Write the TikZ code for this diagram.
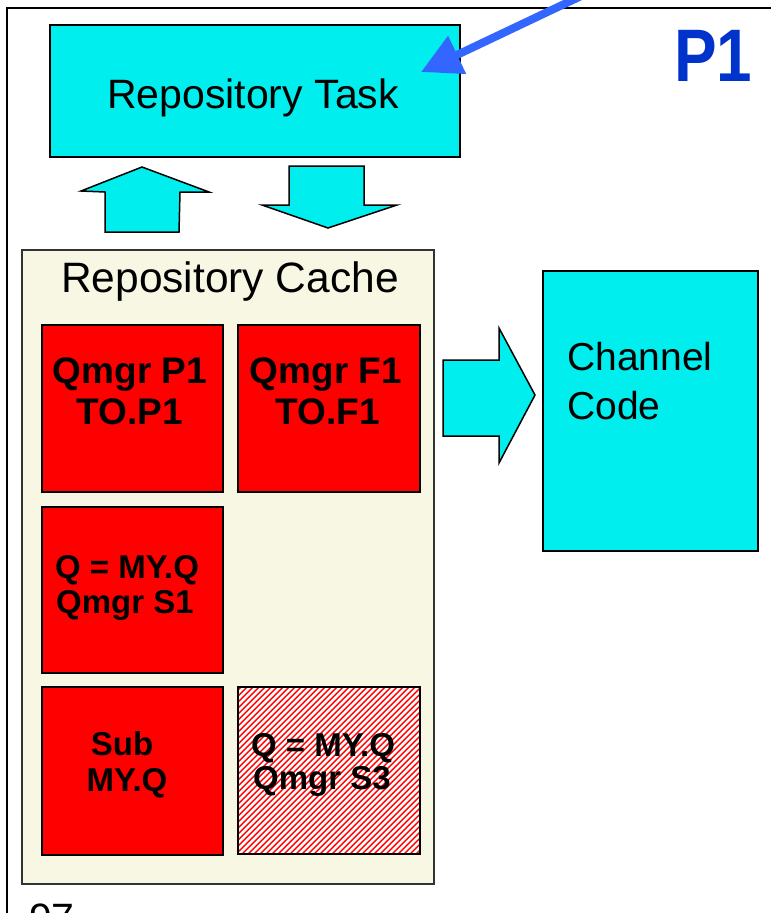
\documentclass[tikz,border=0pt]{standalone}
\usepackage{fontspec}
\setmainfont{Liberation Sans}
\usetikzlibrary{arrows.meta}
\definecolor{cyanfill}{RGB}{0,238,238}
\definecolor{cachefill}{RGB}{248,247,228}
\definecolor{redfill}{RGB}{255,0,0}
\definecolor{ponecol}{RGB}{0,51,204}
\definecolor{pointer}{RGB}{51,102,255}
\begin{document}
\begin{tikzpicture}[x=1pt,y=-1pt,
  boxbase/.style={rectangle, inner sep=0pt, outer sep=0pt},
  cyanbox/.style={boxbase, draw=black, line width=1.5pt, fill=cyanfill},
  cachebox/.style={boxbase, draw=black!80, line width=1.6pt, fill=cachefill},
  redbox/.style={boxbase, draw=black, line width=2pt, fill=redfill},
  hatchbox/.style={boxbase, draw=black, line width=2pt, fill=white},
  blockarrow/.style={draw=black, line width=1.5pt, fill=cyanfill, line join=miter},
  bigtxt/.style={inner sep=0pt, anchor=base, font=\fontsize{41}{49}\selectfont},
  redtxt/.style={inner sep=0pt, anchor=base, font=\fontsize{37}{44}\selectfont\bfseries},
  smalltxt/.style={inner sep=0pt, anchor=base, font=\fontsize{33}{39}\selectfont\bfseries},
  chantxt/.style={inner sep=0pt, anchor=base west, font=\fontsize{39}{47}\selectfont}
]
\useasboundingbox (0,0) rectangle (771,913);
\clip (0,0) rectangle (771,913);
\fill[white] (0,0) rectangle (771,913);

% outer frame
\draw[line width=2pt] (7,960) |- (820,8);

% P1
\node[inner sep=0pt, anchor=base west, text=ponecol] (pone) at (674,81)
  {\scalebox{1.03}[1.2]{\fontsize{62}{70}\selectfont\bfseries P1}};

% repository task
\node[cyanbox, minimum width=410, minimum height=132] (task) at (255,91) {};
\node[bigtxt] (tasktxt) at (253,108) {Repository Task};

% up / down block arrows
\draw[blockarrow] (105,232) -- (105,192) -- (81,191) -- (142,167) -- (209,192) -- (180,192) -- (179,232) -- cycle;
\draw[blockarrow] (289,166) -- (364,166) -- (364,205) -- (397,205) -- (328,228) -- (262,205) -- (289,205) -- cycle;

% repository cache
\node[cachebox, minimum width=412, minimum height=634] (cache) at (228,567) {};
\node[bigtxt, font=\fontsize{42.5}{50}\selectfont] (cachetxt) at (230,292) {Repository Cache};

\node[redbox, minimum width=181, minimum height=167] (qp) at (132.5,408.5) {};
\node[redtxt] (qpa) at (130,383) {Qmgr P1};
\node[redtxt] (qpb) at (130,424) {TO.P1};

\node[redbox, minimum width=182, minimum height=167] (qf) at (329,408.5) {};
\node[redtxt] (qfa) at (326,383) {Qmgr F1};
\node[redtxt] (qfb) at (328,424) {TO.F1};

\node[redbox, minimum width=181, minimum height=166] (qs) at (132.5,590) {};
\node[smalltxt] (qsa) at (127,578) {Q = MY.Q};
\node[smalltxt] (qsb) at (125,613) {Qmgr S1};

\node[redbox, minimum width=181, minimum height=168] (sub) at (132.5,771) {};
\node[smalltxt] (suba) at (122,755) {Sub};
\node[smalltxt] (subb) at (127,791) {MY.Q};

\node[hatchbox, minimum width=182, minimum height=167] (hs) at (329,770.5) {};
\begin{scope}
  \clip (hs.south west) rectangle (hs.north east);
  \foreach \i in {-180,-174,...,190}
    \draw[redfill, line width=1.4pt] (238+\i,858) -- ++(180,-180);
\end{scope}
\draw[black, line width=2pt] (hs.south west) rectangle (hs.north east);
\node[smalltxt] (hsa) at (323,756) {Q = MY.Q};
\node[smalltxt] (hsb) at (322,789) {Qmgr S3};

% right block arrow
\draw[blockarrow] (443,360) -- (499,360) -- (499,328) -- (535,395) -- (499,463) -- (499,436) -- (443,436) -- cycle;

% channel code
\node[cyanbox, minimum width=215, minimum height=280] (chan) at (650.5,411) {};
\node[chantxt] (chana) at (567,370) {Channel};
\node[chantxt] (chanb) at (567,419) {Code};

% page number (cut off at the bottom edge, as in the reference)
\node[inner sep=0pt, anchor=base west, font=\fontsize{41}{49}\selectfont] (pgno) at (29,932) {97};

% pointer arrow
\coordinate (ptrsrc) at (598,-12);
\draw[pointer, line width=8pt, -{Triangle[length=40pt,width=40pt]}] (ptrsrc) -- (421,72);
\end{tikzpicture}
\end{document}
